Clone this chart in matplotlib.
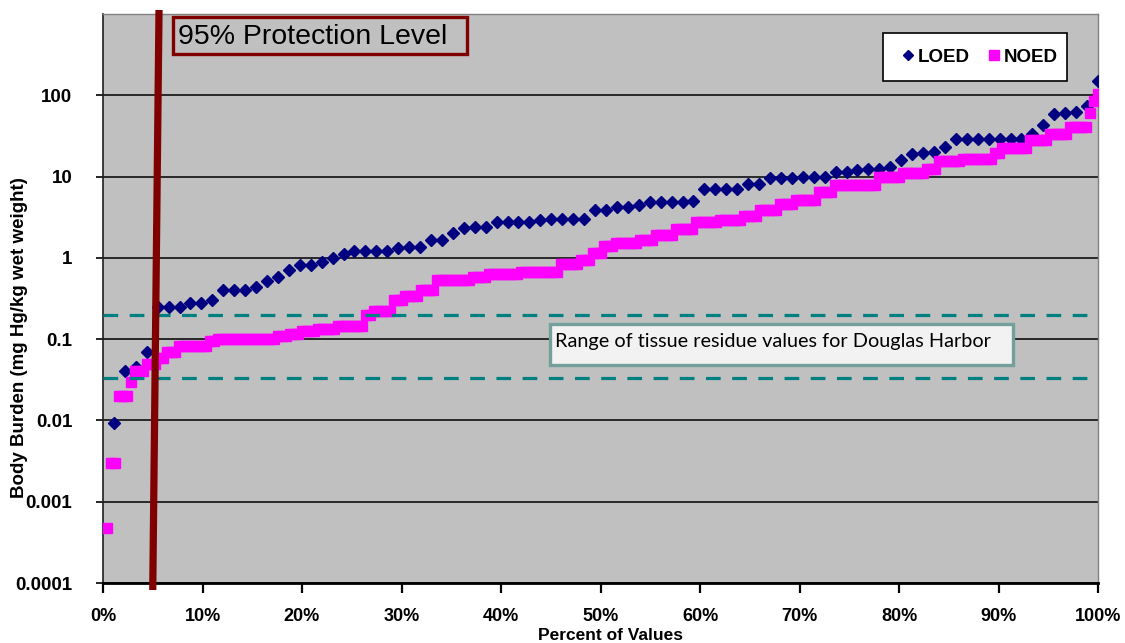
import numpy as np
import matplotlib
matplotlib.use("Agg")
import matplotlib.pyplot as plt
from matplotlib.lines import Line2D
from matplotlib.patches import Rectangle

# ---------------- data ----------------
loed_values = [0.0093, 0.04, 0.045, 0.069, 0.25, 0.25, 0.25, 0.277, 0.277, 0.30,
               0.40, 0.40, 0.40, 0.436, 0.52, 0.58, 0.71, 0.82, 0.82, 0.885,
               1.0, 1.1, 1.23, 1.23, 1.23, 1.23, 1.31, 1.37, 1.37, 1.65,
               1.65, 2.03, 2.34, 2.4, 2.4, 2.8, 2.8, 2.8, 2.8, 2.93,
               3.0, 3.0, 3.0, 3.0, 3.93, 3.93, 4.2, 4.2, 4.53, 4.89,
               4.89, 4.89, 4.89, 5.07, 7.0, 7.0, 7.0, 7.0, 8.06, 8.06,
               9.7, 9.7, 9.7, 10.0, 10.0, 10.0, 11.3, 11.3, 12.2, 12.4,
               12.4, 13.0, 16.2, 19.0, 19.5, 20.0, 23.4, 29.1, 29.1, 29.1,
               29.1, 29.1, 29.1, 29.1, 33.0, 43.3, 58.6, 60.0, 62.5, 74.7,
               148.0]

noed_levels = [0.00047, 0.003, 0.02, 0.03, 0.04, 0.05, 0.059, 0.07, 0.082, 0.095,
               0.10, 0.108, 0.116, 0.127, 0.135, 0.145, 0.20, 0.22, 0.307, 0.34,
               0.40, 0.53, 0.58, 0.63, 0.67, 0.84, 0.95, 1.15, 1.4, 1.54,
               1.65, 1.92, 2.28, 2.73, 2.93, 3.3, 3.86, 4.6, 5.2, 6.4,
               7.9, 9.9, 11.0, 12.5, 15.6, 16.5, 19.6, 22.3, 28.3, 33.2,
               40.6, 60.0, 85.0, 105.0]
noed_counts = [1, 2, 3, 1, 3, 3, 2, 3, 8, 2,
               15, 3, 3, 4, 5, 7, 2, 5, 3, 4,
               4, 9, 4, 8, 10, 5, 3, 3, 3, 6,
               4, 5, 5, 6, 6, 4, 5, 4, 6, 4,
               11, 6, 6, 3, 6, 8, 2, 7, 5, 5,
               5, 1, 1, 1]

y_ticks = [0.0001, 0.001, 0.01, 0.1, 1, 10, 100]
y_tick_labels = ["0.0001", "0.001", "0.01", "0.1", "1", "10", "100"]
x_ticks = [0, 10, 20, 30, 40, 50, 60, 70, 80, 90, 100]
x_tick_labels = [f"{t}%" for t in x_ticks]

range_low, range_high = 0.033, 0.2          # Douglas Harbor tissue residue range
protection_bottom_pct, protection_top_pct = 5.0, 5.63

# percent-of-values positions
loed = np.array(loed_values)
loed_pct = np.arange(1, len(loed) + 1) / len(loed) * 100
noed = np.repeat(noed_levels, noed_counts)
noed_pct = np.arange(1, len(noed) + 1) / len(noed) * 100

# ---------------- figure ----------------
W, H = 1125, 643
fig = plt.figure(figsize=(W / 100, H / 100), dpi=100)
fx = lambda x: x / W
fy = lambda y: 1 - y / H

ax = fig.add_axes([fx(103), fy(583), (1098 - 103) / W, (583 - 14) / H])
ax.set_facecolor("#c0c0c0")
ax.set_yscale("log")
ax.set_ylim(1e-4, 1e3)
ax.set_xlim(0, 100)

for v in y_ticks:
    ax.axhline(v, color="black", lw=1.1, zorder=1)

ax.plot(loed_pct, loed, ls="", marker="D", ms=6.0, color="#000080",
        mec="#000080", zorder=3)
ax.plot(noed_pct, noed, ls="", marker="s", ms=6.6, color="#ff00ff",
        mec="#ff00ff", zorder=4)

for v in (range_high, range_low):
    ax.axhline(v, color="#008080", lw=2.3, ls=(0, (4.6, 3.6)), zorder=5)

# 95% protection line
ax.plot([protection_bottom_pct, protection_top_pct], [8.2e-5, 1120],
        color="#800000", lw=5.2, solid_capstyle="butt", zorder=8, clip_on=False)

ax.set_yticks(y_ticks)
ax.set_yticklabels(y_tick_labels)
ax.yaxis.set_minor_locator(matplotlib.ticker.NullLocator())
ax.set_xticks(x_ticks)
ax.set_xticklabels(x_tick_labels)
ax.tick_params(axis="y", direction="out", length=5, width=1.2, pad=17,
               labelsize=13.5, colors="black")
ax.tick_params(axis="x", direction="out", length=7, width=1.6, pad=11,
               labelsize=13)
for lab in ax.get_xticklabels() + ax.get_yticklabels():
    lab.set_fontweight("bold")
    lab.set_fontfamily("Liberation Sans")

ax.spines["bottom"].set_linewidth(2.0)
ax.spines["bottom"].set_color("black")
ax.spines["left"].set_color("#202020")
ax.spines["left"].set_linewidth(1.2)
for s in ("top", "right"):
    ax.spines[s].set_color("#808080")
    ax.spines[s].set_linewidth(1.0)

# axis titles
fig.text(fx(20), fy(338), "Body Burden (mg Hg/kg wet weight)", rotation=90,
         ha="center", va="center", fontsize=13.5, fontweight="bold",
         family="Liberation Sans")
fig.text(fx(610), fy(635), "Percent of Values", ha="center", va="center",
         fontsize=12.5, fontweight="bold", family="Liberation Sans")

# title box
fig.patches.append(Rectangle((fx(173), fy(54)), (467 - 173) / W, (54 - 17) / H,
                             transform=fig.transFigure, fill=False,
                             ec="#800000", lw=2.4, zorder=9))
fig.text(fx(178), fy(37), "95% Protection Level", ha="left", va="center",
         fontsize=20.5, family="Liberation Sans", zorder=10)

# range text box
fig.patches.append(Rectangle((fx(550), fy(365)), (1013 - 550) / W, (365 - 324) / H,
                             transform=fig.transFigure, fc="#f2f2f2",
                             ec="#73a09b", lw=2.4, zorder=9))
fig.text(fx(555), fy(342), "Range of tissue residue values for Douglas Harbor",
         ha="left", va="center", fontsize=14.3, family="Lato", zorder=10)

# legend
fig.patches.append(Rectangle((fx(883), fy(81)), (1067 - 883) / W, (81 - 33) / H,
                             transform=fig.transFigure, fc="white",
                             ec="black", lw=1.2, zorder=9))
handles = [Line2D([], [], ls="", marker="D", ms=5.0, color="#000080"),
           Line2D([], [], ls="", marker="s", ms=7.0, color="#ff00ff")]
leg = fig.legend(handles, ["LOED", "NOED"], loc="center",
                 bbox_to_anchor=(fx(980), fy(57)), ncol=2, frameon=False,
                 handlelength=0.6, handletextpad=0.2, columnspacing=1.0,
                 prop={"family": "Liberation Sans", "weight": "bold", "size": 13.5})
leg.set_zorder(10)

fig.savefig("out.png", dpi=100)
